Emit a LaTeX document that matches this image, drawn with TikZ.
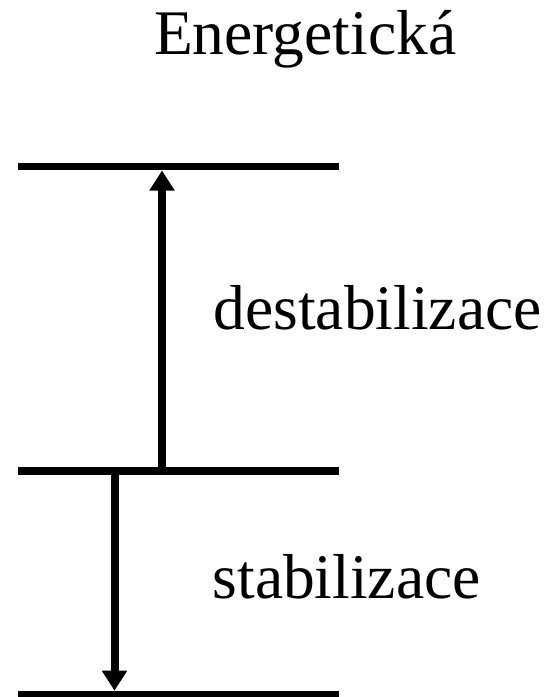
\documentclass[tikz,border=0pt]{standalone}
\usepackage{fontspec}
\setmainfont{Liberation Serif}
\usetikzlibrary{arrows.meta}
\begin{document}
\begin{tikzpicture}[x=1pt,y=-1pt,
  level/.style={line width=7.5pt},
  transition/.style={line width=8pt,-{Triangle[width=24pt,length=20pt]}},
  lbl/.style={anchor=base west,inner sep=0pt,font=\fontsize{63.5}{70}\selectfont}]
\useasboundingbox (0,0) rectangle (550,697);
% level end points
\coordinate (tl) at (18,166.5);  \coordinate (tr) at (339,166.5);
\coordinate (ml) at (18,471);    \coordinate (mr) at (339,471);
\coordinate (bl) at (18,694.5);  \coordinate (br) at (339,694.5);
\draw[level] (tl) -- (tr);
\draw[level] (ml) -- (mr);
\draw[level] (bl) -- (br);
% transitions
\coordinate (ua) at (162,471);   \coordinate (ub) at (162,170.5);
\coordinate (da) at (114.5,471); \coordinate (db) at (114.5,690.7);
\draw[transition] (ua) -- (ub);
\draw[transition] (da) -- (db);
% labels
\node[lbl] (title) at (154,54) {Energetická};
\node[lbl] (destab) at (213.5,329.3) {destabilizace};
\node[lbl] (stab) at (212.5,598) {stabilizace};
\end{tikzpicture}
\end{document}
